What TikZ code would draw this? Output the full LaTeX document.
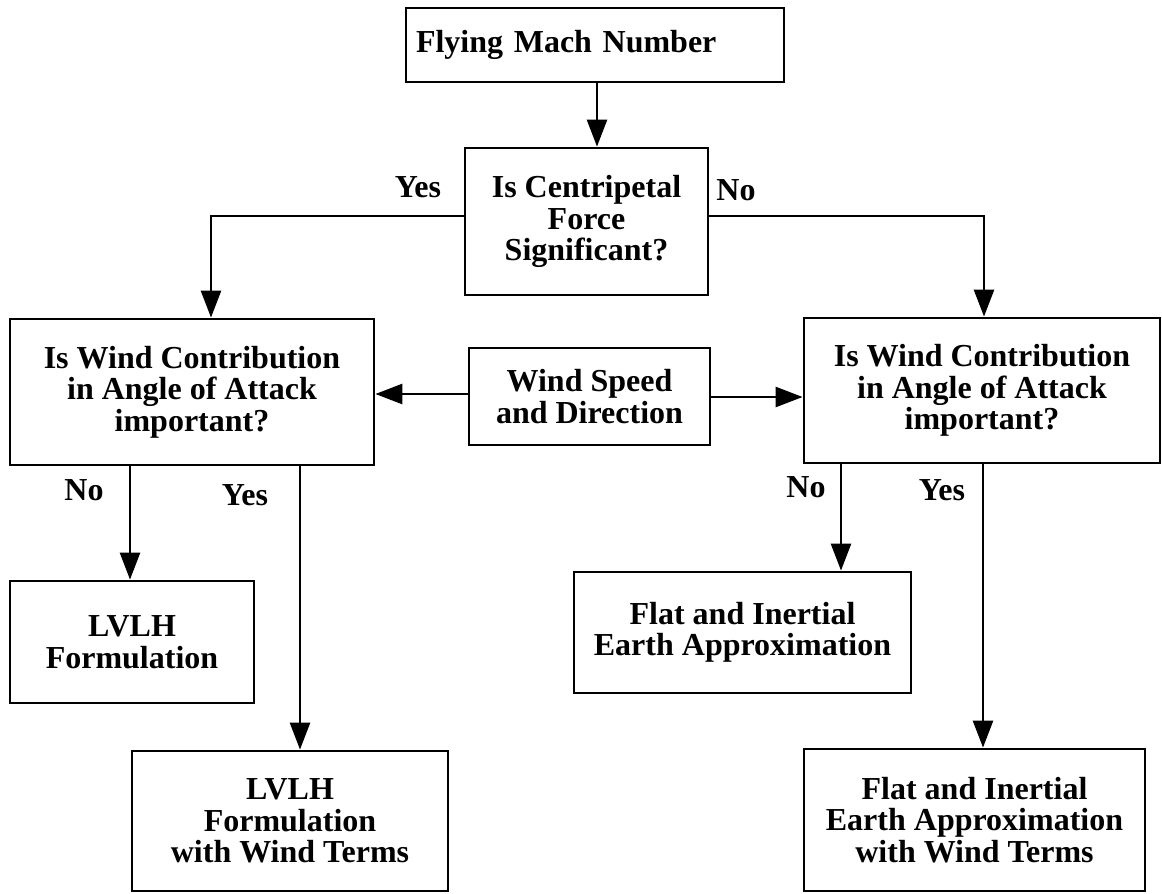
\documentclass[tikz,border=0pt]{standalone}
\usepackage{fontspec}
\setmainfont{Liberation Serif}
\usetikzlibrary{arrows.meta}
\tikzset{
  box/.style={draw=black, line width=2.8pt, fill=white, inner sep=0pt, align=center,
    font=\fontsize{32}{31.5}\selectfont\bfseries},
  lbl/.style={inner sep=0pt, font=\fontsize{32}{31.5}\selectfont\bfseries},
  arr/.style={line width=2.6pt, -{Triangle[width=20pt,length=27pt]}},
  ln/.style={line width=2.6pt}
}
\begin{document}
\begin{tikzpicture}[x=1pt,y=-1pt]
\useasboundingbox[fill=white] (0,0) rectangle (1162,894);
% boxes
\node[box, text width=358pt, inner xsep=10pt, align=left, minimum height=74pt] (mach) at (595,45) {Flying Mach Number};
\node[box, minimum width=243pt, minimum height=147pt] (cent) at (586.5,221.5) {Is Centripetal\\Force\\Significant?};
\node[box, minimum width=364pt, minimum height=146pt] (q1) at (192,392) {Is Wind Contribution\\in Angle of Attack\\important?};
\node[box, minimum width=241pt, minimum height=97pt] (wind) at (589.5,396.5) {Wind Speed\\and Direction};
\node[box, minimum width=356pt, minimum height=145pt] (q2) at (982,390.5) {Is Wind Contribution\\in Angle of Attack\\important?};
\node[box, minimum width=244pt, minimum height=122pt] (lvlh) at (132,642) {LVLH\\Formulation};
\node[box, minimum width=337pt, minimum height=121pt] (flat) at (742.5,632.5) {Flat and Inertial\\Earth Approximation};
\node[box, minimum width=316pt, minimum height=140pt] (lvlhw) at (290,821) {LVLH\\Formulation\\with Wind Terms};
\node[box, minimum width=341pt, minimum height=142pt] (flatw) at (974.5,820) {Flat and Inertial\\Earth Approximation\\with Wind Terms};
% connectors
\draw[arr] ([xshift=2pt]mach.south) -- ([xshift=2pt]mach.south |- cent.north);
\draw[arr] ([yshift=5.5pt]cent.west) -| ([xshift=19pt]q1.north);
\draw[arr] ([yshift=5.5pt]cent.east) -| ([xshift=2pt]q2.north);
\draw[arr] ([yshift=2.5pt]wind.west) -- ([yshift=2.5pt]wind.west -| q1.east);
\draw[arr] ([yshift=-0.5pt]wind.east) -- ([yshift=-0.5pt]wind.east -| q2.west);
\draw[arr] ([xshift=-62pt]q1.south) -- ([xshift=-62pt]q1.south |- lvlh.north);
\draw[arr] ([xshift=108pt]q1.south) -- ([xshift=108pt]q1.south |- lvlhw.north);
\draw[arr] ([xshift=-141pt]q2.south) -- ([xshift=-141pt]q2.south |- flat.north);
\draw[arr] ([xshift=1pt]q2.south) -- ([xshift=1pt]q2.south |- flatw.north);
% labels
\node[lbl] (y1) at (418,187) {Yes};
\node[lbl] (n1) at (736,190) {No};
\node[lbl] (n2) at (84,490) {No};
\node[lbl] (y2) at (245,495) {Yes};
\node[lbl] (n3) at (806,487) {No};
\node[lbl] (y3) at (942,490) {Yes};
\end{tikzpicture}
\end{document}
